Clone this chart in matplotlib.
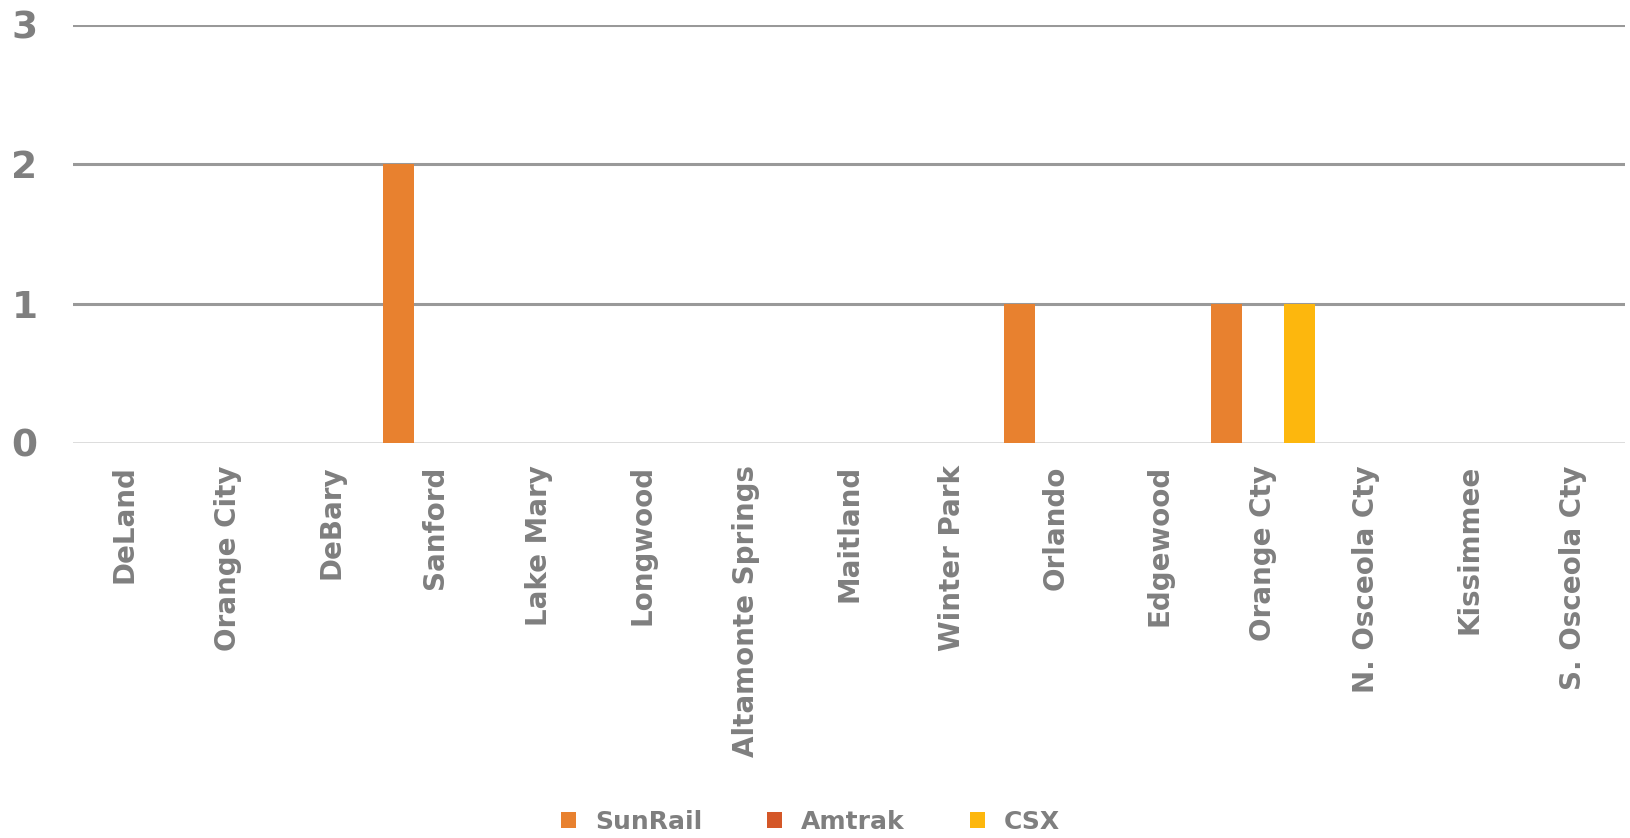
import numpy as np
import matplotlib
matplotlib.use('Agg')
import matplotlib.pyplot as plt

categories = ['DeLand', 'Orange City', 'DeBary', 'Sanford', 'Lake Mary', 'Longwood',
              'Altamonte Springs', 'Maitland', 'Winter Park', 'Orlando', 'Edgewood',
              'Orange Cty', 'N. Osceola Cty', 'Kissimmee', 'S. Osceola Cty']
sunrail = [0, 0, 0, 2, 0, 0, 0, 0, 0, 1, 0, 1, 0, 0, 0]
amtrak = [0, 0, 0, 0, 0, 0, 0, 0, 0, 0, 0, 0, 0, 0, 0]
csx = [0, 0, 0, 0, 0, 0, 0, 0, 0, 0, 0, 1, 0, 0, 0]
series_names = ['SunRail', 'Amtrak', 'CSX']
colors = ['#E8812F', '#D45728', '#FDB70D']

GRAY = '#7F7F7F'
plt.rcParams['font.family'] = ['DejaVu Sans']
plt.rcParams['font.weight'] = 'bold'

fig = plt.figure(figsize=(16.31, 8.38), dpi=100)
ax = fig.add_axes([0.0448, 0.4714, 0.9515, 0.4988])

x = np.arange(len(categories))
width = 0.30
offset = 0.35
for i, (vals, name, c) in enumerate(zip([sunrail, amtrak, csx], series_names, colors)):
    ax.bar(x + (i - 1) * offset, vals, width, color=c, label=name, zorder=3)

ax.set_xlim(-0.5, len(categories) - 0.5)
ax.set_ylim(0, 3)
ax.set_yticks([0, 1, 2, 3])
for y in [1, 2, 3]:
    ax.axhline(y, color='#999999', lw=2.2, zorder=1)
ax.axhline(0, color='#D9D9D9', lw=2, zorder=2)

for s in ax.spines.values():
    s.set_visible(False)

ax.set_xticks(x)
ax.set_xticklabels(categories, rotation=90, fontsize=20, color=GRAY, fontweight='bold')
ax.tick_params(axis='x', length=0, pad=16)
ax.tick_params(axis='y', length=0, pad=35, labelsize=27, labelcolor=GRAY)
for t in ax.get_yticklabels():
    t.set_fontweight('bold')
    t.set_horizontalalignment('center')

leg = fig.legend(loc='center', bbox_to_anchor=(0.497, 0.019), ncol=3, frameon=False,
                 fontsize=18, handlelength=0.6, handleheight=0.6, columnspacing=2.6,
                 handletextpad=0.75)
for t in leg.get_texts():
    t.set_color(GRAY)
    t.set_fontweight('bold')

fig.savefig('out.png', dpi=100)
